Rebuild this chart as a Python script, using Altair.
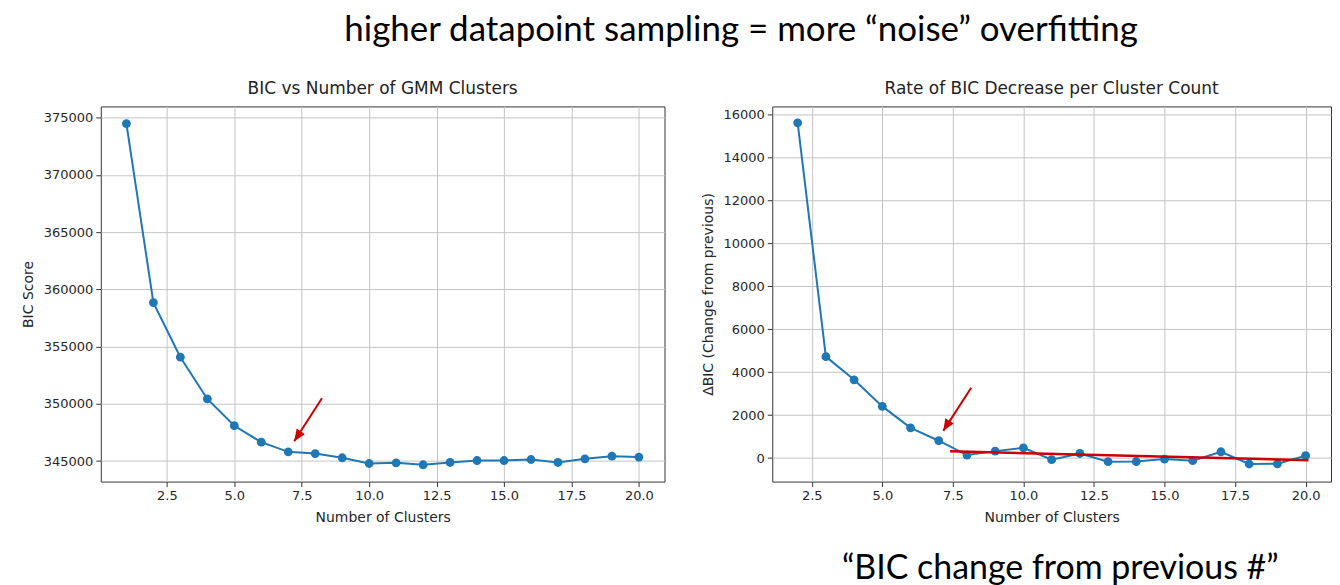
import altair as alt
import pandas as pd

# ---- data ----
clusters = list(range(1, 21))
bic_scores = [374480, 358850, 354080, 350430, 348090, 346650, 345810, 345660, 345290, 344790,
              344850, 344680, 344880, 345050, 345050, 345140, 344880, 345200, 345430, 345350]

delta_clusters = list(range(2, 21))
delta_bic = [15630, 4730, 3650, 2410, 1410, 810, 140, 325, 480, -75,
             215, -165, -160, -45, -120, 295, -275, -265, 110]

# trend line (start/end) on the right panel
trend_x = [7.4, 20.1]
trend_y = [320, -100]

# annotation arrows: tail -> tip
left_arrow_tail = [8.25, 350490]
left_arrow_tip = [7.22, 346740]
right_arrow_tail = [8.15, 3280]
right_arrow_tip = [7.16, 1270]

x_ticks = [2.5, 5.0, 7.5, 10.0, 12.5, 15.0, 17.5, 20.0]
left_y_ticks = [345000, 350000, 355000, 360000, 365000, 370000, 375000]
right_y_ticks = [0, 2000, 4000, 6000, 8000, 10000, 12000, 14000, 16000]

main_title = "higher datapoint sampling = more \u201cnoise\u201d overfitting"
bottom_note = "\u201cBIC change from previous #\u201d"

BLUE = "#1f77b4"
RED = "#cc0000"
MPL_FONT = "DejaVu Sans"
ARROW_PATH = "M0,0 L-0.42,1 L0.42,1 Z"


def axis_x():
    return alt.Axis(values=x_ticks, format=".1f", title="Number of Clusters")


left_xs = alt.Scale(domain=[0.05, 20.95], nice=False, zero=False)
left_ys = alt.Scale(domain=[343210, 375990], nice=False, zero=False)
right_xs = alt.Scale(domain=[1.1, 20.9], nice=False, zero=False)
right_ys = alt.Scale(domain=[-1095, 16395], nice=False, zero=False)

left_df = pd.DataFrame({"k": clusters, "bic": bic_scores})
right_df = pd.DataFrame({"k": delta_clusters, "d": delta_bic})
trend_df = pd.DataFrame({"k": trend_x, "d": trend_y})


def arrow(tail, tip, xs, ys, angle):
    df = pd.DataFrame({"tx": [tail[0]], "ty": [tail[1]], "hx": [tip[0]], "hy": [tip[1]]})
    rule = alt.Chart(df).mark_rule(color=RED, strokeWidth=2).encode(
        x=alt.X("tx:Q", scale=xs), x2="hx:Q", y=alt.Y("ty:Q", scale=ys), y2="hy:Q"
    )
    head = alt.Chart(df).mark_point(shape=ARROW_PATH, filled=True, color=RED, opacity=1,
                                    size=560, angle=angle, strokeWidth=0).encode(
        x=alt.X("hx:Q", scale=xs), y=alt.Y("hy:Q", scale=ys)
    )
    return rule, head


# ---- left panel ----
lbase = alt.Chart(left_df).encode(
    x=alt.X("k:Q", scale=left_xs, axis=axis_x()),
    y=alt.Y("bic:Q", scale=left_ys, axis=alt.Axis(values=left_y_ticks, format="d", title="BIC Score")),
)
lline = lbase.mark_line(color=BLUE, strokeWidth=2)
lpts = lbase.mark_point(color=BLUE, filled=True, opacity=1, size=78)
lrule, lhead = arrow(left_arrow_tail, left_arrow_tip, left_xs, left_ys, 214)

left = alt.layer(lline, lpts, lrule, lhead).properties(
    width=565, height=376,
    title=alt.TitleParams("BIC vs Number of GMM Clusters", font=MPL_FONT, fontSize=17,
                          fontWeight="normal", color="#222222", offset=8),
)

# ---- right panel ----
rbase = alt.Chart(right_df).encode(
    x=alt.X("k:Q", scale=right_xs, axis=axis_x()),
    y=alt.Y("d:Q", scale=right_ys,
            axis=alt.Axis(values=right_y_ticks, format="d", title="\u0394BIC (Change from previous)")),
)
rline = rbase.mark_line(color=BLUE, strokeWidth=2)
rpts = rbase.mark_point(color=BLUE, filled=True, opacity=1, size=78)
rtrend = alt.Chart(trend_df).mark_line(color=RED, strokeWidth=2.5).encode(
    x=alt.X("k:Q", scale=right_xs), y=alt.Y("d:Q", scale=right_ys)
)
rrule, rhead = arrow(right_arrow_tail, right_arrow_tip, right_xs, right_ys, 212)

right = alt.layer(rline, rpts, rtrend, rrule, rhead).properties(
    width=560, height=376,
    title=alt.TitleParams("Rate of BIC Decrease per Cluster Count", font=MPL_FONT, fontSize=17,
                          fontWeight="normal", color="#222222", offset=8),
)

inner = alt.hconcat(left, right, spacing=35).properties(
    title=alt.TitleParams(bottom_note, orient="bottom", anchor="middle", font="Lato",
                          fontSize=34, fontWeight="normal", color="#000000", dx=385, offset=27)
)

chart = alt.vconcat(inner).properties(
    title=alt.TitleParams(main_title, anchor="middle", font="Lato", fontSize=35,
                          fontWeight="normal", color="#000000", dx=65, offset=32),
    padding={"left": 12, "top": 4, "right": 0, "bottom": 0},
).configure_view(
    stroke="#333333", strokeWidth=1
).configure_axis(
    labelFont=MPL_FONT, labelFontSize=13, labelColor="#262626",
    titleFont=MPL_FONT, titleFontSize=14, titleColor="#262626", titleFontWeight="normal",
    titlePadding=8, tickColor="#333333", tickSize=5, labelPadding=3,
    gridColor="#c4c4c4", gridWidth=1, domain=False,
)

chart.save("out.html", embed_options={"renderer": "svg", "actions": False})
